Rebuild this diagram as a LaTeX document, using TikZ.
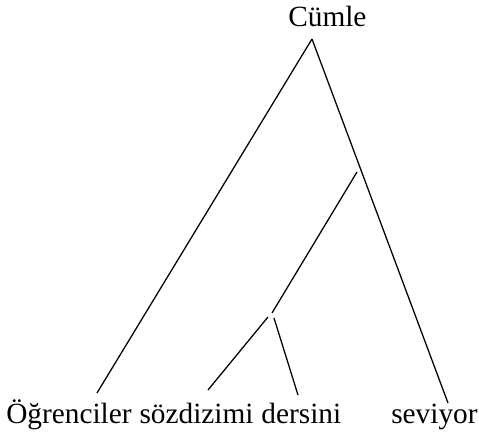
\documentclass[tikz,border=0pt]{standalone}
\usepackage{fontspec}
\setmainfont{Liberation Serif}
\usetikzlibrary{positioning}

\begin{document}
\begin{tikzpicture}[
  x=0.75pt,y=-0.75pt,
  node distance=0pt and 5.5pt,
  word/.style={inner sep=0pt,anchor=base west,font=\fontsize{22}{26}\selectfont},
  branch/.style={line width=0.95pt}
]
  \useasboundingbox (0,0) rectangle (479,435);

  \node[word] (cumle) at (288,27) {Cümle};
  \node[word] (ogrenciler) at (6,423) {Öğrenciler};
  \node[word,base right=of ogrenciler] (sozdizimi) {sözdizimi};
  \node[word,base right=of sozdizimi] (dersini) {dersini};
  \node[word] (seviyor) at (391,423) {seviyor};

  \coordinate (root) at (312,39);
  \coordinate (ogrenciler-end) at (97,393);
  \coordinate (seviyor-end) at (448,403);
  \coordinate (vp-top) at (357,172);
  \coordinate (vp-low) at (272,313);
  \coordinate (np-left) at (268,317);
  \coordinate (np-right) at (274,318);
  \coordinate (sozdizimi-end) at (208,390);
  \coordinate (dersini-end) at (298,395);

  \draw[branch] (root) -- (ogrenciler-end);
  \draw[branch] (root) -- (seviyor-end);
  \draw[branch] (vp-top) -- (vp-low);
  \draw[branch] (np-left) -- (sozdizimi-end);
  \draw[branch] (np-right) -- (dersini-end);
\end{tikzpicture}
\end{document}
